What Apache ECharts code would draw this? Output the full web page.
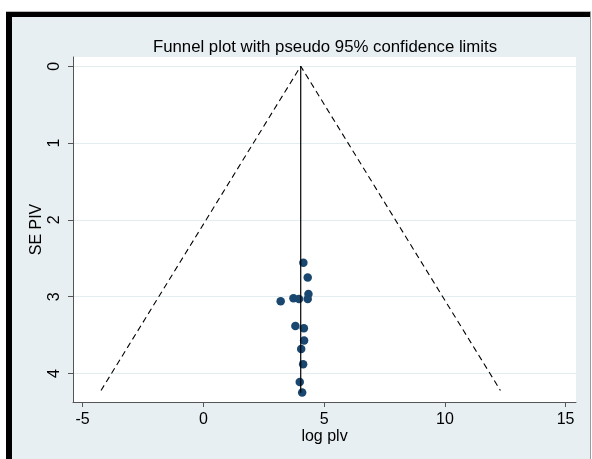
<!DOCTYPE html>
<html>
<head>
<meta charset="utf-8">
<script src="https://cdn.jsdelivr.net/npm/echarts@6/dist/echarts.min.js"></script>
<style>
  html, body { margin: 0; padding: 0; background: #ffffff; }
  #wrap { position: relative; width: 592px; height: 459px; overflow: hidden; }
  .blk { position: absolute; }
  #chart { position: absolute; left: 0; top: 0; width: 592px; height: 459px; }
</style>
</head>
<body>
<div id="wrap">
  <div class="blk" style="left:12px;top:17px;width:578px;height:442px;background:#E8EFF2;"></div>
  <div class="blk" style="left:6px;top:11px;width:585px;height:1px;background:#bbbbbb;"></div>
  <div class="blk" style="left:6px;top:12px;width:585px;height:5px;background:#000000;"></div>
  <div class="blk" style="left:6px;top:12px;width:6px;height:447px;background:#000000;"></div>
  <div class="blk" style="left:590px;top:12px;width:1px;height:447px;background:#9a9a9a;"></div>
  <div id="chart"></div>
</div>
<script>
// Data
var effect = [4.14, 4.32, 4.35, 4.32, 3.20, 3.73, 3.96, 3.81, 4.16, 4.17, 4.05, 4.13, 3.99, 4.09];
var stdErr = [2.557, 2.75, 2.965, 3.03, 3.06, 3.02, 3.03, 3.38, 3.41, 3.57, 3.68, 3.88, 4.11, 4.245];
var pooled = 4.03;
var funnelX = [-4.24, 4.03, 12.30];
var funnelSE = [4.22, 0, 4.22];
var pooledLineSE = [0, 4.25];
var xTicks = [-5, 0, 5, 10, 15];
var yTicks = [0, 1, 2, 3, 4];

var chart = echarts.init(document.getElementById('chart'), null, {renderer: 'canvas'});
var font = '"Liberation Sans", Arial, sans-serif';

var points = effect.map(function (v, i) { return [v, stdErr[i]]; });
var funnel = funnelX.map(function (v, i) { return [v, funnelSE[i]]; });
var vline = pooledLineSE.map(function (s) { return [pooled, s]; });

chart.setOption({
  backgroundColor: 'transparent',
  animation: false,
  title: {
    text: 'Funnel plot with pseudo 95% confidence limits',
    left: 320, textAlign: 'center', top: 34,
    textStyle: { fontFamily: font, fontSize: 16.8, fontWeight: 'normal', color: '#000' }
  },
  grid: { left: 73, top: 57, width: 503, height: 345, show: true, backgroundColor: '#ffffff', borderWidth: 0 },
  xAxis: {
    type: 'value', min: -5.4, max: 15.43,
    name: 'log plv', nameLocation: 'middle', nameGap: 27, nameMoveOverlap: false,
    nameTextStyle: { fontFamily: font, fontSize: 16, color: '#000' },
    axisLine: { show: true, onZero: false, lineStyle: { color: '#555', width: 1 } },
    axisTick: { show: true, length: 5, customValues: xTicks, lineStyle: { color: '#555' } },
    axisLabel: { customValues: xTicks, fontFamily: font, fontSize: 16, color: '#000', margin: 10 },
    splitLine: { show: false }
  },
  yAxis: {
    type: 'value', inverse: true, min: -0.12, max: 4.37,
    name: 'SE PIV', nameLocation: 'middle', nameGap: 28, nameRotate: 90, nameMoveOverlap: false,
    nameTextStyle: { fontFamily: font, fontSize: 16, color: '#000' },
    axisLine: { show: true, onZero: false, lineStyle: { color: '#555', width: 1 } },
    axisTick: { show: true, length: 5, customValues: yTicks, lineStyle: { color: '#555' } },
    axisLabel: { customValues: yTicks, rotate: 90, fontFamily: font, fontSize: 16, color: '#000', margin: 10 },
    splitLine: { show: true, lineStyle: { color: '#E3ECEF', width: 1 } }
  },
  series: [
    {
      type: 'line', data: funnel, symbol: 'none', silent: true,
      lineStyle: { color: '#000', width: 1.1, type: [6, 4] }
    },
    {
      type: 'line', data: vline, symbol: 'none', silent: true,
      lineStyle: { color: '#000', width: 1.2 }
    },
    {
      type: 'scatter', data: points, symbolSize: 8.5,
      itemStyle: { color: '#1A476F', opacity: 1 }
    }
  ]
});
</script>
</body>
</html>
